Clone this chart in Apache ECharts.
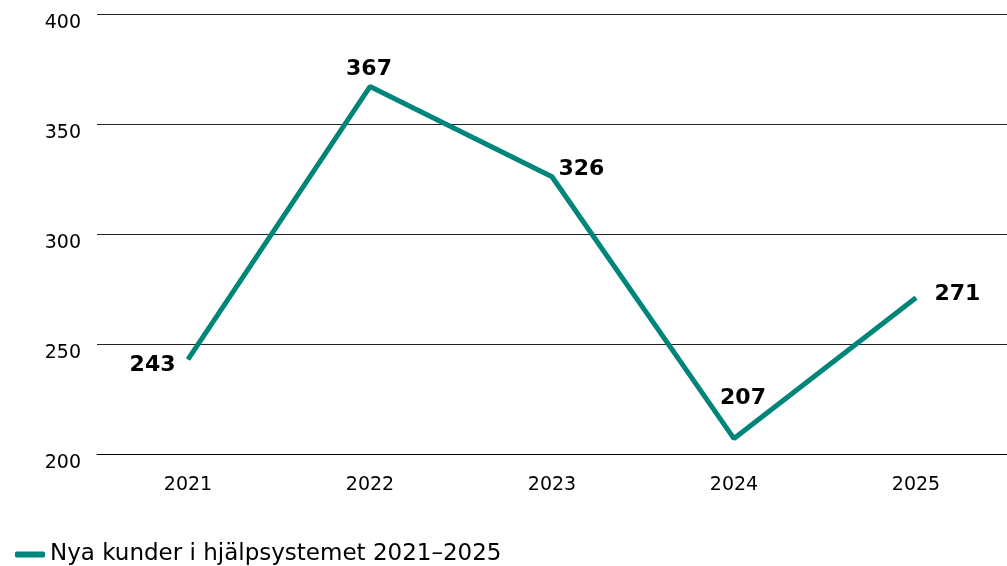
<!DOCTYPE html>
<html><head><meta charset="utf-8">
<script src="https://cdn.jsdelivr.net/npm/echarts@6/dist/echarts.min.js"></script>
<style>html,body{margin:0;padding:0;background:#fff}#c{width:1007px;height:566px}</style>
</head><body><div id="c"></div>
<script>
const categories = ['2021','2022','2023','2024','2025'];
const values = [243, 367, 326, 207, 271];
const seriesName = 'Nya kunder i hjälpsystemet 2021–2025';
const labelPositions = ['left','top','right','top','right'];
const labelOffsets = [[-4,6],[-1,2],[-2,-8],[9,-21],[10,-4]];

const chart = echarts.init(document.getElementById('c'), null, {renderer:'canvas'});
const font = 'DejaVu Sans, Verdana, sans-serif';
chart.setOption({
  animation:false,
  grid:{left:97,right:0,top:14,bottom:112},
  legend:{left:10,top:538,itemWidth:30,itemHeight:6,icon:'roundRect',itemGap:8,
    textStyle:{fontFamily:font,fontSize:23,color:'#000'},data:[seriesName]},
  xAxis:{type:'category',data:categories,boundaryGap:true,
    axisLine:{show:true,lineStyle:{color:'#000',width:1}},axisTick:{show:false},
    axisLabel:{margin:22,fontFamily:font,fontSize:19,color:'#000'}},
  yAxis:{type:'value',min:200,max:400,interval:50,
    axisLine:{show:false},axisTick:{show:false},
    splitLine:{lineStyle:{color:'#222',width:1}},
    axisLabel:{margin:16,fontFamily:font,fontSize:19,color:'#000',verticalAlign:'top'}},
  series:[{name:seriesName,type:'line',data:values.map((v,i)=>({value:v,label:{position:labelPositions[i],offset:labelOffsets[i]}})),
    symbol:'circle',symbolSize:1,showSymbol:true,lineStyle:{color:'#00857a',width:5},itemStyle:{color:'#00857a'},
    label:{show:true,fontFamily:font,fontWeight:'bold',fontSize:22,color:'#000',distance:8}}]
});
</script></body></html>
